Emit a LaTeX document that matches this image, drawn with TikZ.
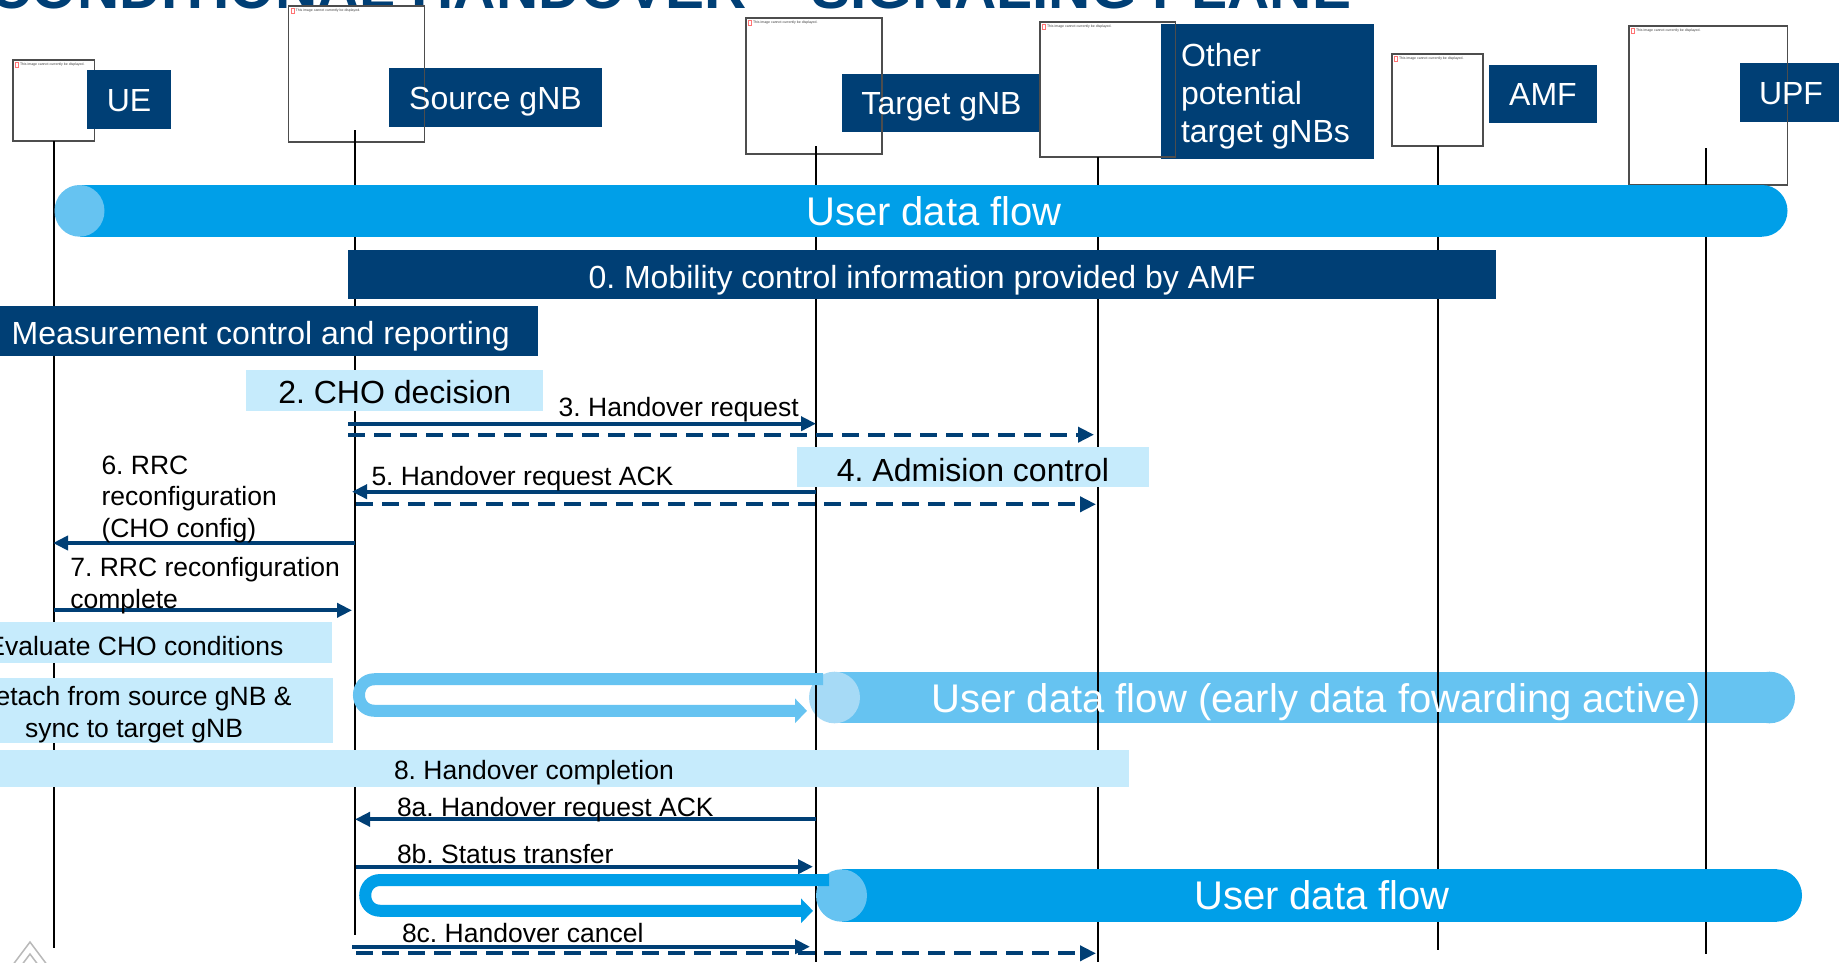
\documentclass[tikz,border=0pt]{standalone}
\usepackage{fontspec}
\setmainfont{Liberation Sans}
\usetikzlibrary{arrows.meta}
\definecolor{navy}{HTML}{003F75}
\definecolor{paleblue}{HTML}{C6EBFC}
\definecolor{brightblue}{HTML}{009FE8}
\definecolor{midblue}{HTML}{66C3F1}
\definecolor{lightcap}{HTML}{A6DAF6}
\definecolor{imgborder}{HTML}{4D4D4D}
\newcommand\fsS{\frenchspacing\fontsize{26.5}{31.8}\selectfont}
\newcommand\fsM{\frenchspacing\fontsize{32}{38.4}\selectfont}
\newcommand\fsL{\frenchspacing\fontsize{40}{48}\selectfont}
\newcommand\fsT{\frenchspacing\fontsize{3.5}{4}\selectfont}
\newcommand\fsTitle{\bfseries\fontsize{58.5}{60}\selectfont}
\begin{document}
\begin{tikzpicture}[x=1pt,y=-1pt,
  every node/.style={inner sep=0pt, outer sep=0pt},
  lbl/.style={font=\fsS, text=black, anchor=base west},
  head/.style={font=\fsM, text=white, anchor=base},
  big/.style={font=\fsL, text=white, anchor=base},
  tinytxt/.style={font=\fsT, text=black!75, anchor=north west},
  imgline/.style={draw=imgborder, line width=1.3pt},
  icon/.style={draw=red!55, line width=0.5pt},
  life/.style={line width=2pt, black},
  msg/.style={draw=navy, line width=3.8pt, -{Triangle[length=15pt,width=14pt]}},
  dmsg/.style={draw=navy, line width=3.8pt, dash pattern=on 17pt off 9pt, -{Triangle[length=16pt,width=15pt]}},
  pipeA/.style={draw=midblue, line width=12pt, -{Triangle[length=12pt,width=24pt]}},
  pipeB/.style={draw=brightblue, line width=12pt, -{Triangle[length=12pt,width=24pt]}},
  ]
\useasboundingbox (0,0) rectangle (1839,962);
\clip (0,0) rectangle (1839,962);
\fill[white] (0,0) rectangle (1839,962);

% title (cut off at the top)
\node[font=\fsTitle, text=navy, anchor=base west] (title) at (-10.7,8) {CONDITIONAL HANDOVER – SIGNALING PLANE};

% early data flow cylinder (under lifelines)
\fill[midblue] (834.5,671.7) rectangle (1769.5,723.3);
\fill[midblue] (1769.5,697.5) ellipse [x radius=25.5pt, y radius=25.8pt];
\fill[lightcap] (834.5,697.5) ellipse [x radius=25.5pt, y radius=25.8pt];

% image placeholder boxes
\fill[white] (13,60) rectangle (94.5,141);
\fill[white] (288.7,6) rectangle (424.3,142);
\fill[white] (746,18) rectangle (882,154);
\fill[white] (1040,22) rectangle (1175.6,157);
\fill[white] (1392,54) rectangle (1483,146);
\fill[white] (1629,26) rectangle (1787.5,185);
\draw[imgline] (13,60) rectangle (94.5,141);
\foreach \x/\y/\n in {13/60/iUE, 288.7/6/iSrc, 746/18/iTgt, 1040/22/iOth, 1392/54/iAMF, 1629/26/iUPF}{
  \draw[icon] (\x+2.5,\y+2.5) rectangle (\x+5.5,\y+7);
  \node[tinytxt] (\n) at (\x+7,\y+3) {This image cannot currently be displayed.};
}

% header labels
\fill[navy] (87,70) rectangle (171,129);
\fill[navy] (389,68) rectangle (602,127);
\fill[navy] (842,74) rectangle (1041,132);
\fill[navy] (1161,24) rectangle (1374,159);
\fill[navy] (1489,65) rectangle (1597,123);
\fill[navy] (1740,63) rectangle (1845,122);
\draw[imgline] (288.7,6) rectangle (424.3,142);
\draw[imgline] (746,18) rectangle (882,154);
\draw[imgline] (1040,22) rectangle (1175.6,157);
\draw[imgline] (1392,54) rectangle (1483,146);
\draw[imgline] (1629,26) rectangle (1787.5,185);

\node[head] (tUE) at (129,111) {UE};
\node[head] (tSrc) at (495.5,109) {Source gNB};
\node[head] (tTgt) at (941.5,114.5) {Target gNB};
\node[head, anchor=base west] (tOth1) at (1181,66.2) {Other};
\node[head, anchor=base west] (tOth2) at (1181,104.6) {potential};
\node[head, anchor=base west] (tOth3) at (1181,142.9) {target gNBs};
\node[head] (tAMF) at (1543,105.5) {AMF};
\node[head] (tUPF) at (1791,104) {UPF};

% lifelines
\coordinate (UEt) at (54,141);    \coordinate (UEb) at (54,948);
\coordinate (SRt) at (355,130);   \coordinate (SRb) at (355,935);
\coordinate (TGt) at (816,146);   \coordinate (TGb) at (816,962);
\coordinate (OTt) at (1097.5,157);\coordinate (OTb) at (1097.5,962);
\coordinate (AMt) at (1437.5,146);\coordinate (AMb) at (1437.5,950);
\coordinate (UPt) at (1706,148);  \coordinate (UPb) at (1706,954);
\draw[life] (UEt) -- (UEb);
\draw[life] (SRt) -- (SRb);
\draw[life] (TGt) -- (TGb);
\draw[life] (OTt) -- (OTb);
\draw[life] (AMt) -- (AMb);
\draw[life] (UPt) -- (UPb);

% top user data flow
\fill[brightblue] (79.5,185) rectangle (1762,236.7);
\fill[brightblue] (1762,210.85) ellipse [x radius=25.5pt, y radius=25.85pt];
\fill[midblue] (79.5,210.85) ellipse [x radius=25pt, y radius=25.85pt];
\node[big] (udf1) at (934,225.3) {User data flow};

% mobility / measurement
\fill[navy] (348,250) rectangle (1496,299);
\node[head] (mob) at (922,288) {0. Mobility control information provided by AMF};
\fill[navy] (-10,306) rectangle (538,355.7);
\node[head, anchor=base west] (meas) at (11.7,344.6) {Measurement control and reporting};

% CHO decision
\fill[paleblue] (246,370) rectangle (543,410.7);
\node[head, text=black] (cho) at (394.8,403) {2. CHO decision};

% 3. handover request
\coordinate (m3a) at (348,423.7);  \coordinate (m3b) at (816,423.7);
\coordinate (m3c) at (348,434.7);  \coordinate (m3d) at (1094,434.7);
\draw[msg] (m3a) -- (m3b);
\draw[dmsg] (m3c) -- (m3d);
\node[lbl] (l3) at (558.7,416.7) {3. Handover request};

% 4. admission control
\fill[paleblue] (797.3,447) rectangle (1149,486.7);
\node[head, text=black] (adm) at (973,481.2) {4. Admision control};

% 5. handover request ACK
\coordinate (m5a) at (816,491.7);  \coordinate (m5b) at (352,491.7);
\coordinate (m5c) at (356,504.3);  \coordinate (m5d) at (1096,504.3);
\draw[msg] (m5a) -- (m5b);
\draw[dmsg] (m5c) -- (m5d);
\node[lbl] (l5) at (371.5,485) {5. Handover request ACK};

% 6. RRC reconfiguration
\coordinate (m6a) at (355,543);  \coordinate (m6b) at (53,543);
\draw[msg] (m6a) -- (m6b);
\node[lbl] (l6a) at (101.5,474) {6. RRC};
\node[lbl] (l6b) at (101.5,505.8) {reconfiguration};
\node[lbl] (l6c) at (101.5,537.6) {(CHO config)};

% 7. RRC reconfiguration complete
\coordinate (m7a) at (54,610.3);  \coordinate (m7b) at (352,610.3);
\draw[msg] (m7a) -- (m7b);
\node[lbl] (l7a) at (70.4,576.7) {7. RRC reconfiguration};
\node[lbl] (l7b) at (70.4,608.5) {complete};

% evaluate / detach
\fill[paleblue] (-10,621.7) rectangle (332,662.7);
\node[lbl, anchor=base east] (eval) at (283.5,655) {Evaluate CHO conditions};
\fill[paleblue] (-10,678.3) rectangle (333,742.7);
\node[lbl, anchor=base] (det1) at (134,705.7) {Detach from source gNB \&};
\node[lbl, anchor=base] (det2) at (134,737.3) {sync to target gNB};

% early forwarding pipe
\coordinate (pa1) at (823,679.2);
\coordinate (pa2) at (807,710.8);
\draw[pipeA] (pa1) -- (374.8,679.2) .. controls (353.7,679.2) and (353.7,710.8) .. (374.8,710.8) -- (pa2);
\node[big] (udf2) at (1316,712) {User data flow (early data fowarding active)};

% 8. handover completion
\fill[paleblue] (-10,750) rectangle (1129,786.7);
\node[lbl] (l8) at (394,779) {8. Handover completion};

% 8a
\coordinate (m8aa) at (816,819.3);  \coordinate (m8ab) at (355,819.3);
\draw[msg] (m8aa) -- (m8ab);
\node[lbl] (l8a) at (397,816.5) {8a. Handover request ACK};

% 8b
\coordinate (m8ba) at (356,866.7);  \coordinate (m8bb) at (813,866.7);
\draw[msg] (m8ba) -- (m8bb);
\node[lbl] (l8b) at (397,863.5) {8b. Status transfer};

% second user data flow
\fill[brightblue] (841.5,869.3) rectangle (1776.5,921.7);
\fill[brightblue] (1776.5,895.5) ellipse [x radius=25.5pt, y radius=26.2pt];
\fill[midblue] (841.5,895.5) ellipse [x radius=25.5pt, y radius=26.2pt];
\coordinate (pb1) at (829,880);
\coordinate (pb2) at (813,910.8);
\draw[pipeB] (pb1) -- (380.6,880) .. controls (360.1,880) and (360.1,910.8) .. (380.6,910.8) -- (pb2);
\node[big] (udf3) at (1322,909.8) {User data flow};

% 8c
\coordinate (m8ca) at (352,946.7);  \coordinate (m8cb) at (810,946.7);
\coordinate (m8cc) at (356,953.3);  \coordinate (m8cd) at (1096,953.3);
\draw[msg] (m8ca) -- (m8cb);
\draw[dmsg] (m8cc) -- (m8cd);
\node[lbl] (l8c) at (402,942.5) {8c. Handover cancel};

% logo fragment bottom-left
\draw[gray!55, line width=1.5pt, line join=miter] (12,966) -- (30,942) -- (48,966);
\draw[gray!55, line width=1.5pt] (21,966) -- (30,954) -- (39,966);
\end{tikzpicture}
\end{document}
